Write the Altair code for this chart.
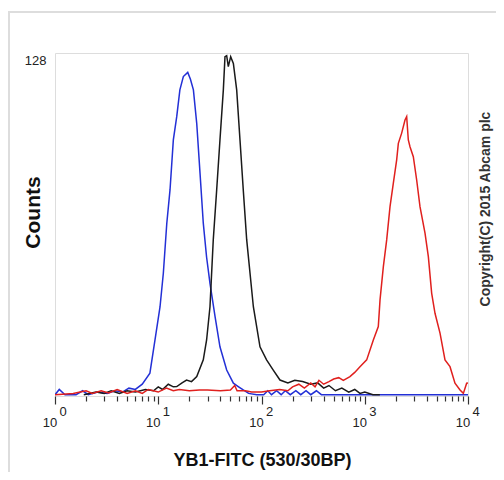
import altair as alt
import pandas as pd

# ---- data ----
blue_x = [1, 1.1, 1.25, 1.6, 1.85, 2.1, 2.6, 3.2, 3.8, 4.5, 5.2, 6, 7, 8.3, 9.3, 10.4, 11.2, 12.1,
          13.0, 14.0, 15.1, 16.2, 17.5, 19.3, 20.5, 21.9, 23.6, 25.4, 27.3, 29.4, 31.7, 35.5, 39.6,
          46, 53.4, 60, 66.6, 75, 90, 105, 115, 125, 140, 155, 170, 190, 215, 240, 270, 300, 340,
          380, 10000]
blue_y = [0.5, 2.5, 0.5, 0.5, 2, 0.5, 1.5, 1, 2, 1.5, 3, 2.5, 4.5, 8.7, 21.4, 34, 46.9, 66,
          78.7, 97.8, 106.7, 116.9, 122, 123.6, 121, 116.9, 104, 85, 66, 53, 43, 30.3, 18.8,
          9.9, 4.9, 3.5, 2.3, 1, 0.5, 0.5, 2, 0.5, 2, 0.5, 2, 0.5, 2, 0.5, 2, 0.5, 2,
          0.5, 0.5]

black_x = [1.9, 2.5, 3, 3.5, 4.2, 5, 6, 7.5, 9, 10, 11, 12.5, 14, 15.1, 17, 18.8, 21, 23.6, 27.3,
           29.4, 31.7, 34.1, 36.8, 39.6, 42.7, 44.3, 46, 47.7, 50.3, 53.4, 57.5, 61.9, 66.6, 71.9,
           83.4, 96.7, 112, 130, 151, 180, 210, 250, 300, 350, 400, 450, 520, 600, 700, 800, 900,
           1000, 1200, 1400]
black_y = [0.5, 1.5, 1, 2, 1, 2, 1.5, 2.5, 2, 3.5, 2.5, 4.5, 3.5, 3.6, 5, 6.1, 5.5, 7.4, 13.8,
           21.4, 34.1, 59.6, 78.7, 97.8, 116.9, 129.6, 130, 125.8, 129.6, 127, 116.9, 97.8, 78.7, 59.6,
           34.1, 18.8, 13.8, 9.9, 6.1, 5, 6, 5.5, 4.5, 5, 3, 4, 2, 3, 1.5, 2.5, 1,
           1.5, 0.5, 0.5]

red_x = [1, 1.5, 2, 2.3, 2.8, 3.3, 4, 5, 6, 7, 8, 10, 12, 14, 16, 20, 25, 30, 40, 50, 55, 58, 70,
         80, 100, 120, 150, 180, 200, 230, 260, 300, 330, 360, 400, 450, 500, 560, 620, 719, 800,
         899, 1044, 1211, 1353, 1406, 1514, 1631, 1757, 1892, 2038, 2115, 2278, 2454, 2547, 2642,
         2743, 2954, 3183, 3428, 3834, 4130, 4449, 4791, 5358, 5987, 6694, 7482, 8373, 9016, 9707,
         10000]
red_y = [0.5, 1, 2, 1, 2, 1.2, 2.5, 1, 2, 1, 2.5, 1.5, 3, 2, 2.5, 2, 2.3, 2.3, 2, 2.3, 4, 2, 2,
         1.5, 1.5, 2, 2.5, 2, 3.5, 4.5, 3, 5, 3.5, 6, 4.5, 5.5, 6.5, 7, 6, 7.4, 9,
         11.2, 13.8, 21.4, 26.5, 36.7, 49.4, 59.6, 72.3, 81.3, 90.2, 96.5, 100.4, 105.4, 106.7, 97.8,
         95.2, 91.4, 82.5, 72.3, 62.2, 53.2, 39.2, 31.6, 24, 13.8, 11.2, 4.9, 2.3, 1, 4.9,
         5]

series_names = ["isotype", "unstained", "YB1"]
series_colors = ["#2330d6", "#1a1a1a", "#e0201e"]

decades = [1, 10, 100, 1000, 10000]
exponents = ["0", "1", "2", "3", "4"]
minor_ticks = [m * d for d in [1, 10, 100, 1000] for m in range(1, 10)] + [10000]

y_tick_values = [128]

x_title = "YB1-FITC (530/30BP)"
y_title = "Counts"
copyright_text = "Copyright(C) 2015 Abcam plc"

rows = []
for name, xs, ys in zip(series_names, [blue_x, black_x, red_x], [blue_y, black_y, red_y]):
    for i, (a, b) in enumerate(zip(xs, ys)):
        rows.append({"series": name, "x": a, "y": b, "order": i})
df = pd.DataFrame(rows)

FONT = "Liberation Sans"
W, H = 413, 343

xscale = alt.Scale(type="log", domain=[1, 10000], nice=False)
yscale = alt.Scale(domain=[0, 131], nice=False, zero=True)

lines = alt.Chart(df).mark_line(strokeWidth=1.5, clip=True).encode(
    x=alt.X("x:Q", scale=xscale,
            axis=alt.Axis(values=minor_ticks, labels=False, title=x_title, grid=False,
                          domain=False, tickColor="#333", tickWidth=1.2,
                          tickSize={"condition": {"test": "abs(log(datum.value)/LN10 - round(log(datum.value)/LN10)) < 0.001", "value": 8}, "value": 5},
                          titleFont=FONT, titleFontSize=18, titleFontWeight="bold", titleColor="#111",
                          titleX=207, titleY=64, titleBaseline="middle", titleAlign="center")),
    y=alt.Y("y:Q", scale=yscale,
            axis=alt.Axis(values=y_tick_values, ticks=False, domain=False, grid=False,
                          labelFont=FONT, labelFontSize=13, labelColor="#222", labelPadding=9,
                          title=y_title, titleFont=FONT, titleFontSize=21, titleFontWeight="bold",
                          titleColor="#111", titleAngle=-90, titleX=-22, titleY=159,
                          titleBaseline="middle", titleAlign="center")),
    color=alt.Color("series:N", scale=alt.Scale(domain=series_names, range=series_colors), legend=None),
    order="order:Q",
    detail="series:N",
)

lab_df = pd.DataFrame({"x": decades, "e": exponents, "t": ["10"] * 5})
base_labels = alt.Chart(lab_df).mark_text(font=FONT, fontSize=13, color="#222", baseline="middle",
                                           align="center", dx=-5).encode(
    x=alt.X("x:Q", scale=xscale), y=alt.value(370), text="t:N")
exp_labels = alt.Chart(lab_df).mark_text(font=FONT, fontSize=13, color="#222", baseline="middle",
                                          align="center", dx=8).encode(
    x=alt.X("x:Q", scale=xscale), y=alt.value(359), text="e:N")

copyright = alt.Chart(pd.DataFrame({"t": [copyright_text]})).mark_text(
    font=FONT, fontSize=14, fontWeight="bold", color="#333", angle=270, baseline="middle",
    align="center").encode(x=alt.value(431), y=alt.value(156), text="t:N")

border_top = alt.Chart(pd.DataFrame({"a": [0]})).mark_rule(color="#dddddd", strokeWidth=2).encode(
    x=alt.value(-47), x2=alt.value(445), y=alt.value(-41))
border_left = alt.Chart(pd.DataFrame({"a": [0]})).mark_rule(color="#dddddd", strokeWidth=2).encode(
    x=alt.value(-46), y=alt.value(-41), y2=alt.value(420))

chart = alt.layer(border_top, border_left, lines, base_labels, exp_labels, copyright).properties(
    width=W, height=H, padding={"left": 47, "top": 45, "right": 28, "bottom": 76},
    autosize=alt.AutoSizeParams(type="none"),
).configure_view(stroke="#333", strokeWidth=1.8).configure(background="white")

chart.save("out.html", embed_options={"renderer": "svg", "actions": False})
